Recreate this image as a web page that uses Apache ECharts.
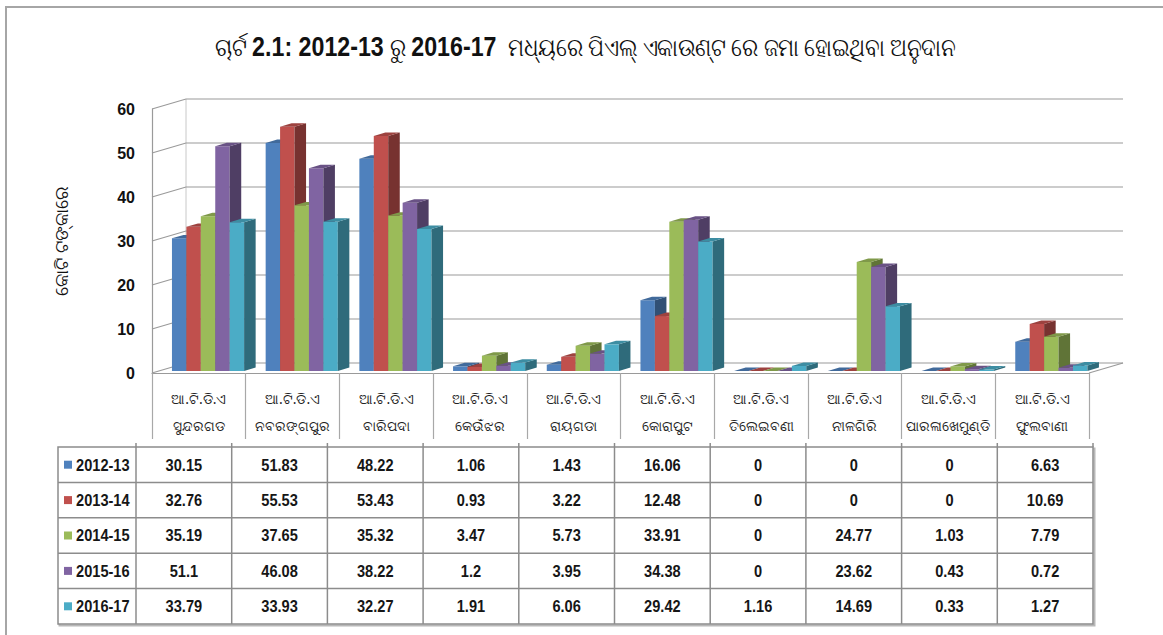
<!DOCTYPE html>
<html>
<head>
<meta charset="utf-8">
<script src="https://cdn.jsdelivr.net/npm/echarts@6/dist/echarts.min.js"></script>
<style>
html,body{margin:0;padding:0;background:#fff;}
#chart{width:1163px;height:635px;}
</style>
</head>
<body>
<div id="chart"></div>
<script>
// ---- data ----
const categories = [
  'ଆ.ଟି.ଡି.ଏ\nସୁନ୍ଦରଗଡ',
  'ଆ.ଟି.ଡି.ଏ\nନବରଙ୍ଗପୁର',
  'ଆ.ଟି.ଡି.ଏ\nବାରିପଦା',
  'ଆ.ଟି.ଡି.ଏ\nକେଉଁଝର',
  'ଆ.ଟି.ଡି.ଏ\nରାୟଗଡା',
  'ଆ.ଟି.ଡି.ଏ\nକୋରାପୁଟ',
  'ଆ.ଟି.ଡି.ଏ\nତିଲେଇବଣୀ',
  'ଆ.ଟି.ଡି.ଏ\nନୀଳଗିରି',
  'ଆ.ଟି.ଡି.ଏ\nପାରଳାଖେମୁଣ୍ଡି',
  'ଆ.ଟି.ଡି.ଏ\nଫୁଲବାଣୀ'
];
const years = ['2012-13', '2013-14', '2014-15', '2015-16', '2016-17'];
const v2012_13 = [30.15, 51.83, 48.22, 1.06, 1.43, 16.06, 0, 0, 0, 6.63];
const v2013_14 = [32.76, 55.53, 53.43, 0.93, 3.22, 12.48, 0, 0, 0, 10.69];
const v2014_15 = [35.19, 37.65, 35.32, 3.47, 5.73, 33.91, 0, 24.77, 1.03, 7.79];
const v2015_16 = [51.1, 46.08, 38.22, 1.2, 3.95, 34.38, 0, 23.62, 0.43, 0.72];
const v2016_17 = [33.79, 33.93, 32.27, 1.91, 6.06, 29.42, 1.16, 14.69, 0.33, 1.27];
const yTicks = [0, 10, 20, 30, 40, 50, 60];
const titleParts = [['r', 'ଚାର୍ଟ '], ['b', '2.1: 2012-13'], ['r', ' ରୁ '], ['b', '2016-17'], ['r', ' ମଧ୍ୟରେ ପିଏଲ୍ ଏକାଉଣ୍ଟ ରେ ଜମା ହୋଇଥିବା ଅନୁଦାନ']];
const yAxisTitle = 'କୋଟି ଟଙ୍କାରେ';

// ---- styles ----
const allSeries = [v2012_13, v2013_14, v2014_15, v2015_16, v2016_17];
const colors = ['#4F81BD', '#C0504D', '#9BBB59', '#8064A2', '#4BACC6'];
const NUM_FONT = "'Liberation Sans', 'Noto Sans', sans-serif";
const ODIA_FONT = "'Noto Sans', 'DejaVu Sans', sans-serif";
const DEPTH_X = 34, DEPTH_Y = 10;
const GRID_COLOR = '#9a9a9a';

function shade(hex, f) {
  const n = parseInt(hex.slice(1), 16);
  const r = Math.round(((n >> 16) & 255) * f);
  const g = Math.round(((n >> 8) & 255) * f);
  const b = Math.round((n & 255) * f);
  return 'rgb(' + r + ',' + g + ',' + b + ')';
}

function wallRender(params, api) {
  const cs = params.coordSys;
  const y = api.coord([0, api.value(1)])[1];
  const children = [{
    type: 'polyline',
    shape: { points: [[cs.x, y], [cs.x + DEPTH_X, y - DEPTH_Y], [cs.x + cs.width + DEPTH_X, y - DEPTH_Y]] },
    style: { stroke: GRID_COLOR, lineWidth: 1.2, fill: null }
  }];
  if (params.dataIndex === 0) {
    const yTop = api.coord([0, yTicks[yTicks.length - 1]])[1];
    children.push({
      type: 'line',
      shape: { x1: cs.x + DEPTH_X, y1: y - DEPTH_Y, x2: cs.x + DEPTH_X, y2: yTop - DEPTH_Y },
      style: { stroke: '#c8c8c8', lineWidth: 1 }
    });
    children.push({
      type: 'line',
      shape: { x1: cs.x + cs.width, y1: y, x2: cs.x + cs.width + DEPTH_X, y2: y - DEPTH_Y },
      style: { stroke: GRID_COLOR, lineWidth: 1.2 }
    });
  }
  return { type: 'group', children: children };
}

function barRender(si) {
  return function (params, api) {
    const ci = api.value(0), val = api.value(1);
    const base = api.coord([ci, 0]);
    const top = api.coord([ci, val]);
    const bw = api.size([1, 0])[0];
    const w = bw * 0.154;
    const x0 = base[0] - bw / 2 + bw * 0.213 + si * w;
    const dx = w * 0.8, dy = dx * 0.3;
    const yb = base[1] - 2;
    const yt = Math.min(top[1] - 2, yb);
    const c = colors[si];
    return {
      type: 'group',
      children: [
        { type: 'rect', shape: { x: x0, y: yt, width: w, height: yb - yt }, style: { fill: c } },
        { type: 'polygon', shape: { points: [[x0 + w, yb], [x0 + w + dx, yb - dy], [x0 + w + dx, yt - dy], [x0 + w, yt]] }, style: { fill: shade(c, 0.62) } },
        { type: 'polygon', shape: { points: [[x0, yt], [x0 + w, yt], [x0 + w + dx, yt - dy], [x0 + dx, yt - dy]] }, style: { fill: shade(c, 0.82) } }
      ]
    };
  };
}

// ---- data table (graphic) ----
const TBL_X = 58, TBL_Y = 447, LEG_W = 78, COL_W = 95.7, ROW_H = 35.4;
const LINE_C = '#8c8c8c';
const tableEls = [];
const tblW = LEG_W + COL_W * categories.length;
const tblH = ROW_H * years.length;
tableEls.push({ type: 'rect', shape: { x: TBL_X + 1.5, y: TBL_Y + 1.5, width: tblW, height: tblH }, style: { fill: null, stroke: '#b8b8b8', lineWidth: 2 }, z: 1 });
tableEls.push({ type: 'rect', shape: { x: TBL_X, y: TBL_Y, width: tblW, height: tblH }, style: { fill: '#fff', stroke: LINE_C, lineWidth: 1.5 }, z: 2 });
for (let r = 1; r < years.length; r++) {
  tableEls.push({ type: 'line', shape: { x1: TBL_X, y1: TBL_Y + r * ROW_H, x2: TBL_X + tblW, y2: TBL_Y + r * ROW_H }, style: { stroke: LINE_C, lineWidth: 1.5 }, z: 3 });
}
for (let c = 0; c < categories.length; c++) {
  const x = TBL_X + LEG_W + c * COL_W;
  tableEls.push({ type: 'line', shape: { x1: x, y1: TBL_Y - 4, x2: x, y2: TBL_Y + tblH }, style: { stroke: LINE_C, lineWidth: 1.5 }, z: 3 });
}
tableEls.push({ type: 'line', shape: { x1: TBL_X + tblW, y1: TBL_Y - 4, x2: TBL_X + tblW, y2: TBL_Y }, style: { stroke: LINE_C, lineWidth: 1.5 }, z: 3 });
years.forEach(function (yr, r) {
  const cy = TBL_Y + r * ROW_H + ROW_H / 2;
  tableEls.push({ type: 'rect', shape: { x: TBL_X + 6, y: cy - 4, width: 8, height: 8 }, style: { fill: colors[r] }, z: 4 });
  tableEls.push({ type: 'text', x: TBL_X + 18, y: cy, scaleX: 0.86, style: { text: yr, x: 0, y: 0, font: 'bold 17px ' + NUM_FONT, fill: '#161616', textAlign: 'left', textVerticalAlign: 'middle' }, z: 4 });
  allSeries[r].forEach(function (v, c) {
    tableEls.push({ type: 'text', x: TBL_X + LEG_W + c * COL_W + COL_W / 2, y: cy, scaleX: 0.86, style: { text: String(v), x: 0, y: 0, font: 'bold 17px ' + NUM_FONT, fill: '#161616', textAlign: 'center', textVerticalAlign: 'middle' }, z: 4 });
  });
});
// title
tableEls.push({
  type: 'text', x: 588, y: 46, scaleX: 0.86, z: 5,
  style: {
    text: titleParts.map(function (p) { return '{' + p[0] + '|' + p[1] + '}'; }).join(''),
    x: 0, y: 0, textAlign: 'center', textVerticalAlign: 'middle',
    rich: {
      r: { fontSize: 25, fontFamily: ODIA_FONT, fill: '#111' },
      b: { fontSize: 27, fontWeight: 'bold', fontFamily: NUM_FONT, fill: '#111' }
    }
  }
});
// outer frame
tableEls.push({ type: 'rect', shape: { x: 6, y: 7, width: 1200, height: 700 }, style: { fill: null, stroke: '#a6a6a6', lineWidth: 2 }, z: 0 });

const series = [{
  type: 'custom',
  name: 'walls',
  silent: true,
  clip: false,
  renderItem: wallRender,
  data: yTicks.map(function (v) { return [0, v]; }),
  z: 1
}];
years.forEach(function (yr, si) {
  series.push({
    type: 'custom',
    name: yr,
    clip: false,
    renderItem: barRender(si),
    data: allSeries[si].map(function (v, i) { return [i, v]; }),
    z: 2
  });
});

const chart = echarts.init(document.getElementById('chart'), null, { renderer: 'svg' });
chart.setOption({
  animation: false,
  backgroundColor: '#fff',
  grid: { left: 152, right: 74, top: 109, bottom: 262 },
  xAxis: {
    type: 'category',
    data: categories,
    boundaryGap: true,
    axisLine: { show: true, lineStyle: { color: GRID_COLOR, width: 1.2 } },
    axisTick: { show: true, length: 66, lineStyle: { color: '#a8a8a8', width: 1.2 } },
    axisLabel: { interval: 0, margin: 12, fontSize: 14, lineHeight: 27, color: '#222', fontFamily: ODIA_FONT, align: 'center' },
    splitLine: { show: false }
  },
  yAxis: {
    type: 'value',
    min: 0, max: 60, interval: 10,
    name: yAxisTitle,
    nameLocation: 'middle',
    nameGap: 82,
    nameRotate: 90,
    nameTextStyle: { fontSize: 18, color: '#111', fontFamily: ODIA_FONT },
    axisLine: { show: true, lineStyle: { color: GRID_COLOR, width: 1.2 } },
    axisTick: { show: false },
    axisLabel: { margin: 17, fontSize: 16, fontWeight: 'bold', color: '#111', fontFamily: NUM_FONT },
    splitLine: { show: false }
  },
  graphic: { elements: tableEls },
  series: series
});
</script>
</body>
</html>
